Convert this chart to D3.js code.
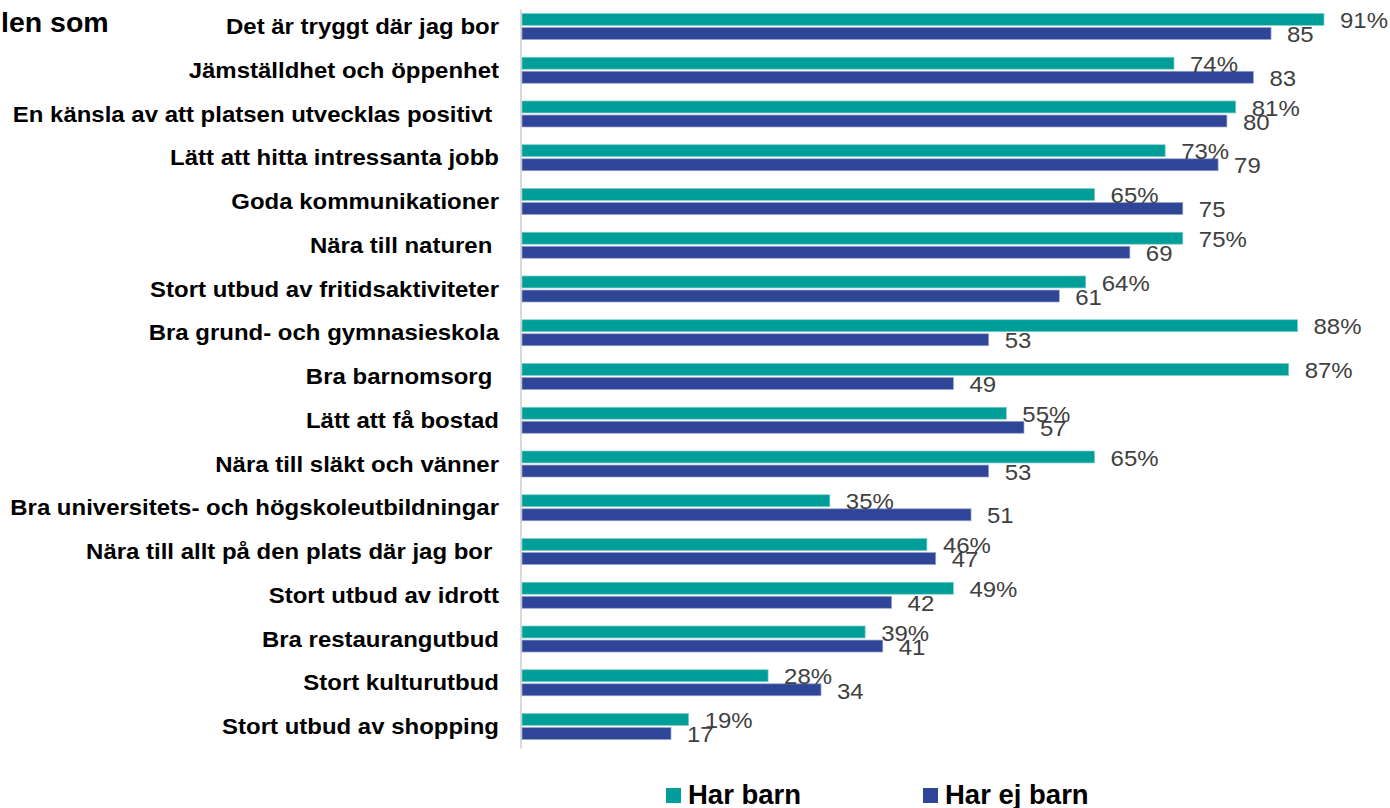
<!DOCTYPE html>
<html><head><meta charset="utf-8">
<script src="https://cdn.jsdelivr.net/npm/d3@7"></script>
<style>
html,body{margin:0;padding:0;background:#fff;overflow:hidden}
svg{display:block}
text{font-family:"Liberation Sans",Arial,sans-serif;white-space:pre}
</style></head>
<body>
<svg id="chart" width="1390" height="808"></svg>
<script>
const categories = [
  "Det är tryggt där jag bor",
  "Jämställdhet och öppenhet",
  "En känsla av att platsen utvecklas positivt ",
  "Lätt att hitta intressanta jobb",
  "Goda kommunikationer",
  "Nära till naturen ",
  "Stort utbud av fritidsaktiviteter",
  "Bra grund- och gymnasieskola",
  "Bra barnomsorg ",
  "Lätt att få bostad",
  "Nära till släkt och vänner",
  "Bra universitets- och högskoleutbildningar",
  "Nära till allt på den plats där jag bor ",
  "Stort utbud av idrott",
  "Bra restaurangutbud",
  "Stort kulturutbud",
  "Stort utbud av shopping"
];
const harBarn   = [91,74,81,73,65,75,64,88,87,55,65,35,46,49,39,28,19];
const harEjBarn = [85,83,80,79,75,69,61,53,49,57,53,51,47,42,41,34,17];
const seriesNames = ["Har barn","Har ej barn"];
const seriesColors = ["#009E99","#2F4698"];
const titleFragment = "len som";

const svg = d3.select("#chart");
const x = d3.scaleLinear().domain([0,100]).range([521, 1403.4]);
const y = d3.scaleBand().domain(categories).range([4.6, 748.4]).padding(0);
const sub = d3.scaleBand().domain(seriesNames).range([0,26]).paddingInner(0.15);
const groupOffset = (y.bandwidth() - 26)/2;
const stretch = 1.09;

const rows = categories.map((c,i)=>({cat:c, vals:[harBarn[i], harEjBarn[i]]}));

// axis line
svg.append("line")
  .attr("x1", x(0)).attr("x2", x(0))
  .attr("y1", y.range()[0]+5).attr("y2", y.range()[1])
  .attr("stroke","#d9d9d9").attr("stroke-width",2);

// category labels
svg.append("g").selectAll("text").data(categories).join("text")
  .attr("transform", d => `translate(499,${y(d) + y.bandwidth()/2}) scale(${stretch},1)`)
  .attr("dy","0.35em")
  .attr("text-anchor","end")
  .attr("font-weight","bold")
  .attr("font-size","22px")
  .attr("fill","#000")
  .text(d => d);

// bars
const g = svg.append("g").selectAll("g").data(rows).join("g")
  .attr("transform", d => `translate(0,${y(d.cat)+groupOffset})`);

g.selectAll("rect").data(d => d.vals.map((v,j)=>({v, s:seriesNames[j], j})))
  .join("rect")
  .attr("x", x(0)+1)
  .attr("y", d => sub(d.s))
  .attr("width", d => x(d.v) - x(0) - 1)
  .attr("height", sub.bandwidth())
  .attr("fill", d => seriesColors[d.j])
  .attr("stroke", d => d.j===0 ? "#7fcdca" : "#97a3cf")
  .attr("stroke-width", 0.7);

g.selectAll("text").data(d => d.vals.map((v,j)=>({v, s:seriesNames[j], j})))
  .join("text")
  .attr("transform", d => `translate(${x(d.v) + 16},${sub(d.s) + sub.bandwidth()/2 + 1}) scale(${stretch},1)`)
  .attr("dy","0.35em")
  .attr("font-size","22px")
  .attr("fill","#404040")
  .text(d => d.j===0 ? d.v + "%" : d.v);

// title fragment
svg.append("text").attr("x",1).attr("y",22).attr("dy","0.35em")
  .attr("font-weight","bold").attr("font-size","28.5px").attr("fill","#000")
  .text(titleFragment);

// legend
const legendX = [666, 923];
const lg = svg.append("g").selectAll("g").data(seriesNames).join("g")
  .attr("transform",(d,i)=>`translate(${legendX[i]},788)`);
lg.append("rect").attr("width",15).attr("height",15).attr("fill",(d,i)=>seriesColors[i]);
lg.append("text").attr("x",22).attr("y",16)
  .attr("font-weight","bold").attr("font-size","27.5px").attr("fill","#000")
  .text(d=>d);
</script>
</body></html>
